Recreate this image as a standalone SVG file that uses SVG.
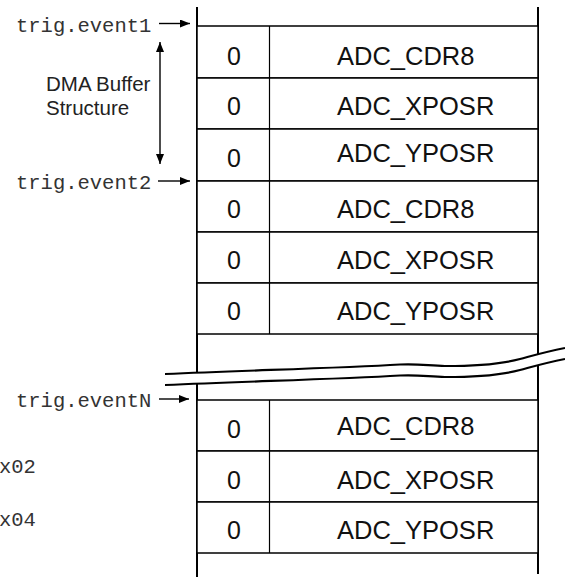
<svg xmlns="http://www.w3.org/2000/svg" width="565" height="580" viewBox="0 0 565 580">
<style>
.cell{fill:#fff;stroke:#000;stroke-width:1.5}
.div{stroke:#000;stroke-width:1.2}
.num{font-family:"Liberation Sans",Arial,sans-serif;font-size:25px;fill:#111;text-anchor:middle}
.reg{font-family:"Liberation Sans",Arial,sans-serif;font-size:25.5px;fill:#111}
.mono{font-family:"Liberation Mono","Courier New",monospace;font-size:20.5px;fill:#333}
.lbl{font-family:"Liberation Sans",Arial,sans-serif;font-size:20.5px;fill:#222}
.outer{stroke:#000;stroke-width:2;fill:none}
.conn{stroke:#000;stroke-width:1.4;fill:none}
</style>
<defs>
<marker id="ah" viewBox="0 0 10 8" refX="10" refY="4" markerWidth="10" markerHeight="8" markerUnits="userSpaceOnUse" orient="auto-start-reverse">
<path d="M0,0 L10,4 L0,8 Z" fill="#000"/>
</marker>
</defs>
<rect width="565" height="580" fill="#fff"/>

<g id="frame">
<line class="outer" x1="197" y1="7" x2="197" y2="577"/>
<line class="outer" x1="538" y1="7" x2="538" y2="574"/>
</g>

<g id="group1">
<g id="r1"><rect class="cell" x="197" y="26" width="341" height="52"/><line class="div" x1="269.5" y1="26" x2="269.5" y2="78"/><text class="num" x="234" y="65">0</text><text class="reg" x="337" y="65">ADC_CDR8</text></g>
<g id="r2"><rect class="cell" x="197" y="78" width="341" height="51"/><line class="div" x1="269.5" y1="78" x2="269.5" y2="129"/><text class="num" x="234" y="115">0</text><text class="reg" x="337" y="115">ADC_XPOSR</text></g>
<g id="r3"><rect class="cell" x="197" y="129" width="341" height="52"/><line class="div" x1="269.5" y1="129" x2="269.5" y2="181"/><text class="num" x="234" y="166.5">0</text><text class="reg" x="337" y="162">ADC_YPOSR</text></g>
<g id="r4"><rect class="cell" x="197" y="181" width="341" height="51"/><line class="div" x1="269.5" y1="181" x2="269.5" y2="232"/><text class="num" x="234" y="218">0</text><text class="reg" x="337" y="218">ADC_CDR8</text></g>
<g id="r5"><rect class="cell" x="197" y="232" width="341" height="51"/><line class="div" x1="269.5" y1="232" x2="269.5" y2="283"/><text class="num" x="234" y="269">0</text><text class="reg" x="337" y="269">ADC_XPOSR</text></g>
<g id="r6"><rect class="cell" x="197" y="283" width="341" height="51"/><line class="div" x1="269.5" y1="283" x2="269.5" y2="334"/><text class="num" x="234" y="320">0</text><text class="reg" x="337" y="320">ADC_YPOSR</text></g>
</g>

<g id="group2">
<g id="r7"><rect class="cell" x="197" y="400" width="341" height="51"/><line class="div" x1="269.5" y1="400" x2="269.5" y2="451"/><text class="num" x="234" y="438">0</text><text class="reg" x="337" y="435">ADC_CDR8</text></g>
<g id="r8"><rect class="cell" x="197" y="451" width="341" height="51"/><line class="div" x1="269.5" y1="451" x2="269.5" y2="502"/><text class="num" x="234" y="488.5">0</text><text class="reg" x="337" y="489">ADC_XPOSR</text></g>
<g id="r9"><rect class="cell" x="197" y="502" width="341" height="51"/><line class="div" x1="269.5" y1="502" x2="269.5" y2="553"/><text class="num" x="234" y="539">0</text><text class="reg" x="337" y="539">ADC_YPOSR</text></g>
</g>

<g id="break">
<path d="M165,374 C260,370 340,368 400,364.5 C420,363.5 430,366 445,366 C480,366 505,363 520,359 C535,355 545,352 565,348 L565,359 C545,363 535,366 520,370 C505,374 480,377 445,377 C430,377 420,374.5 400,375.5 C340,379 260,381 165,385 Z" fill="#fff" stroke="none"/>
<path d="M165,374 C260,370 340,368 400,364.5 C420,363.5 430,366 445,366 C480,366 505,363 520,359 C535,355 545,352 565,348" fill="none" stroke="#000" stroke-width="2.2"/>
<path d="M165,385 C260,381 340,379 400,375.5 C420,374.5 430,377 445,377 C480,377 505,374 520,370 C535,366 545,363 565,359" fill="none" stroke="#000" stroke-width="2.2"/>
</g>

<g id="labels">
<text class="mono" x="16" y="31.5">trig.event1</text>
<text class="mono" x="16" y="188.5">trig.event2</text>
<text class="mono" x="16" y="406.5">trig.eventN</text>
<text class="mono" x="-1" y="473">x02</text>
<text class="mono" x="-1" y="526">x04</text>
<text class="lbl" x="46" y="91">DMA Buffer</text>
<text class="lbl" x="46" y="115">Structure</text>
</g>

<g id="connectors">
<line class="conn" x1="159" y1="23.5" x2="190" y2="23.5" marker-end="url(#ah)"/>
<line class="conn" x1="158" y1="181" x2="190" y2="181" marker-end="url(#ah)"/>
<line class="conn" x1="159" y1="399" x2="189" y2="399" marker-end="url(#ah)"/>
<line class="conn" x1="160" y1="42" x2="160" y2="164" stroke="#333" marker-start="url(#ah)" marker-end="url(#ah)"/>
</g>
</svg>
